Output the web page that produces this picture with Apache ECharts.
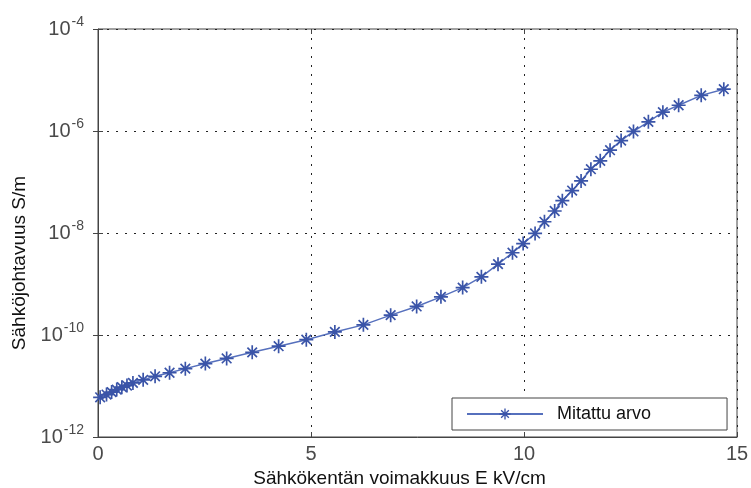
<!DOCTYPE html>
<html>
<head>
<meta charset="utf-8">
<script src="https://cdn.jsdelivr.net/npm/echarts@6/dist/echarts.min.js"></script>
<style>
  html, body { margin: 0; padding: 0; background: #fff; }
  #chart { width: 751px; height: 488px; }
</style>
</head>
<body>
<div id="chart"></div>
<script>
// Field strength E (kV/cm)
const fieldStrength = [
  0.05, 0.20, 0.32, 0.44, 0.56, 0.68, 0.82, 1.06, 1.34, 1.68,
  2.05, 2.52, 3.02, 3.62, 4.24, 4.89, 5.56, 6.23, 6.87, 7.48,
  8.05, 8.56, 9.00, 9.39, 9.73, 9.98, 10.26, 10.48, 10.72, 10.90,
  11.13, 11.34, 11.57, 11.79, 12.02, 12.28, 12.57, 12.92, 13.26, 13.63,
  14.16, 14.69
];

// Measured conductivity (S/m)
const conductivity = [
  6.0e-12, 6.8e-12, 7.6e-12, 8.5e-12, 9.5e-12, 1.02e-11, 1.15e-11, 1.32e-11, 1.55e-11, 1.82e-11,
  2.19e-11, 2.75e-11, 3.47e-11, 4.57e-11, 6.03e-11, 8.1e-11, 1.15e-10, 1.58e-10, 2.45e-10, 3.63e-10,
  5.6e-10, 8.5e-10, 1.38e-9, 2.45e-9, 4.1e-9, 6.2e-9, 9.8e-9, 1.66e-8, 2.7e-8, 4.3e-8,
  6.8e-8, 1.05e-7, 1.78e-7, 2.6e-7, 4.2e-7, 6.5e-7, 9.8e-7, 1.51e-6, 2.34e-6, 3.2e-6,
  5.0e-6, 6.6e-6
];

const xTicks = [0, 5, 10, 15];
const yExponents = [-12, -10, -8, -6, -4];

const seriesName = 'Mitattu arvo';
const xTitle = 'Sähkökentän voimakkuus E kV/cm';
const yTitle = 'Sähköjohtavuus S/m';

const lineColor = '#5670bd';
const markerColor = '#3a54a8';
const tickColor = '#4a4a4a';
const font = 'Liberation Sans, Arial, sans-serif';

// eight-armed asterisk marker built from thin filled bars
const asterisk = 'path://M0 8.8L20 8.8L20 11.2L0 11.2Z M8.8 0L11.2 0L11.2 20L8.8 20Z ' +
  'M2.3 4.0L4.0 2.3L17.7 16.0L16.0 17.7Z M16.0 2.3L17.7 4.0L4.0 17.7L2.3 16.0Z';

const points = fieldStrength.map((x, i) => [x, conductivity[i]]);

const expLabel = v => {
  const e = Math.round(Math.log10(v));
  return yExponents.includes(e) ? '{b|10}{s|' + e + '}' : '';
};

const chart = echarts.init(document.getElementById('chart'), null, { renderer: 'canvas' });

const gridLine = { show: true, lineStyle: { color: '#222', type: [2, 7], width: 1 } };
const inTick = { show: true, inside: true, length: 5, lineStyle: { color: '#444' } };

chart.setOption({
  animation: false,
  backgroundColor: '#fff',
  grid: {
    left: 98, right: 14, top: 29, bottom: 51,
    outerBoundsMode: 'none', containLabel: false,
    show: true, borderColor: '#444', borderWidth: 1
  },
  xAxis: [{
    type: 'value', min: xTicks[0], max: xTicks[xTicks.length - 1], interval: 5,
    name: xTitle, nameLocation: 'middle', nameGap: 32,
    nameTextStyle: { fontFamily: font, fontSize: 19, color: '#111', padding: [0, 36, 0, 0] },
    axisLine: { show: true, lineStyle: { color: '#444' } },
    axisTick: inTick,
    axisLabel: { fontFamily: font, fontSize: 20, color: tickColor, margin: 7 },
    splitLine: gridLine
  }, {
    type: 'value', position: 'top', min: xTicks[0], max: xTicks[xTicks.length - 1], interval: 5,
    axisLine: { show: false },
    axisTick: inTick,
    axisLabel: { show: false }, splitLine: { show: false }
  }],
  yAxis: [{
    type: 'log', logBase: 10, min: 1e-12, max: 1e-4, interval: 2,
    name: yTitle, nameLocation: 'middle', nameGap: 64, nameRotate: 90,
    nameTextStyle: { fontFamily: font, fontSize: 19, color: '#111', padding: [0, 60, 0, 0] },
    axisLine: { show: true, lineStyle: { color: '#444' } },
    axisTick: inTick,
    axisLabel: {
      margin: 14, formatter: expLabel,
      rich: {
        b: { fontFamily: font, fontSize: 20, color: tickColor },
        s: { fontFamily: font, fontSize: 14, color: tickColor, padding: [0, 0, 14, 1] }
      }
    },
    minorTick: { show: false },
    splitLine: gridLine
  }, {
    type: 'log', logBase: 10, position: 'right', min: 1e-12, max: 1e-4, interval: 2,
    axisLine: { show: false },
    axisTick: inTick,
    axisLabel: { show: false }, splitLine: { show: false }
  }],
  legend: {
    left: 452, top: 398,
    data: [seriesName],
    backgroundColor: '#fff', borderColor: '#444', borderWidth: 1,
    padding: [7, 76, 7, 14],
    itemWidth: 76, itemHeight: 14, itemGap: 10,
    textStyle: { fontFamily: font, fontSize: 18, color: '#111', padding: [0, 0, 0, 9] }
  },
  series: [{
    name: seriesName,
    type: 'line',
    data: points,
    xAxisIndex: 0, yAxisIndex: 0,
    symbol: asterisk, symbolSize: 14,
    lineStyle: { color: lineColor, width: 1.5 },
    itemStyle: { color: markerColor },
    z: 5
  }]
});
</script>
</body>
</html>
